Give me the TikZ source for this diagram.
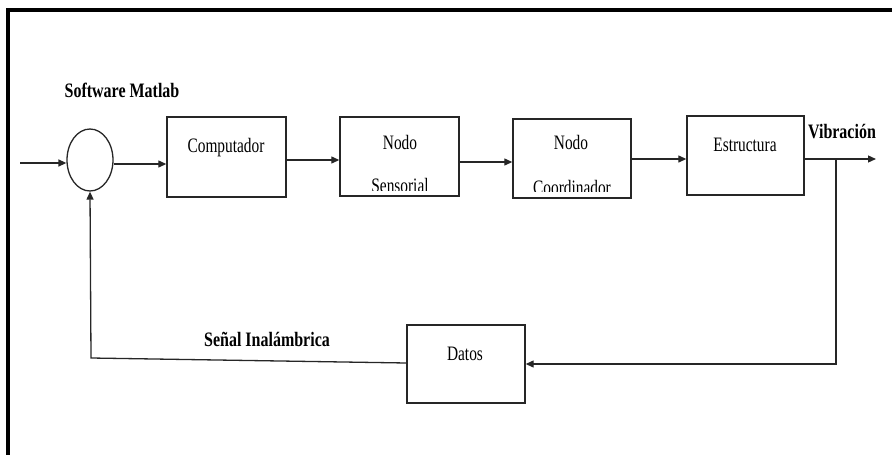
\documentclass[tikz,border=0pt]{standalone}
\usepackage{fontspec}
\usepackage{graphicx}
\setmainfont{Liberation Serif}
\usetikzlibrary{arrows.meta,shapes.geometric}
\newcommand{\narrow}[1]{\scalebox{0.75}[1]{#1}}
\newcommand{\narrowbf}[1]{\scalebox{0.78}[1]{\bfseries #1}}
\tikzset{
  wire/.style={line width=1.3pt, draw=black!85},
  flow/.style={wire, -{Triangle[length=8pt,width=7pt]}},
  blockbox/.style={draw=black!85, line width=1.4pt, rectangle, inner sep=0pt},
  txt/.style={inner sep=0pt, font=\fontsize{20.5}{24}\selectfont},
}
\begin{document}
\begin{tikzpicture}[x=1pt,y=-1pt]
\useasboundingbox (0,0) rectangle (892,455);
% outer frame (top and left edges)
\draw[line width=4pt] (8,470) -- (8,10) -- (900,10);

% summing junction
\node[ellipse, draw=black!85, line width=1.3pt, minimum width=46pt, minimum height=62pt, inner sep=0pt] (sum) at (90,160) {};
\coordinate (in) at (20,163);

% blocks
\node[blockbox, minimum width=119pt, minimum height=80pt] (comp) at (226.5,157) {};
\node[blockbox, minimum width=119pt, minimum height=79pt] (sens) at (399.5,156.5) {};
\node[blockbox, minimum width=118pt, minimum height=79pt] (coord) at (572,158.5) {};
\node[blockbox, minimum width=117pt, minimum height=79pt] (estr) at (745.5,155.5) {};
\node[blockbox, minimum width=118pt, minimum height=78pt] (datos) at (466,364) {};

% block texts (lower lines are cut off just above the box edge)
\node[txt] (tcomp) at (226,148) {\narrow{Computador}};
\node[txt] (tsens1) at (400,142) {\narrow{Nodo}};
\begin{scope}
  \clip (342,160) rectangle (457,190);
  \node[txt] (tsens2) at (400,185) {\narrow{Sensorial}};
\end{scope}
\node[txt] (tcoord1) at (571,142) {\narrow{Nodo}};
\begin{scope}
  \clip (515,160) rectangle (629,191);
  \node[txt] (tcoord2) at (572,187) {\narrow{Coordinador}};
\end{scope}
\node[txt] (testr) at (745,145) {\narrow{Estructura}};
\node[txt] (tdatos) at (465,354) {\narrow{Datos}};

% signal labels
\node[txt] (lsoft) at (122,90) {\narrowbf{Software Matlab}};
\node[txt] (lvib) at (842,132) {\narrowbf{Vibración}};
\node[txt] (lsenal) at (267,339) {\narrowbf{Señal Inalámbrica}};

% forward path
\draw[flow] (in) -- (sum.west |- in);
\draw[flow] (sum.east |- 0,164) -- (comp.west |- 0,164);
\draw[flow] (comp.east |- 0,160) -- (sens.west |- 0,160);
\draw[flow] (sens.east |- 0,162) -- (coord.west |- 0,162);
\draw[flow] (coord.east |- 0,159) -- (estr.west |- 0,159);
\coordinate (out) at (876,159);
\draw[flow] (estr.east |- out) -- (out);

% feedback path
\coordinate (tap) at (836,159);
\coordinate (fbr) at (836,364);
\coordinate (fbl) at (91,358);
\draw[flow] (tap) -- (fbr) -- (datos.east |- fbr);
\draw[flow] (datos.west |- 0,363) -- (fbl) -- (sum.south);
\end{tikzpicture}
\end{document}
